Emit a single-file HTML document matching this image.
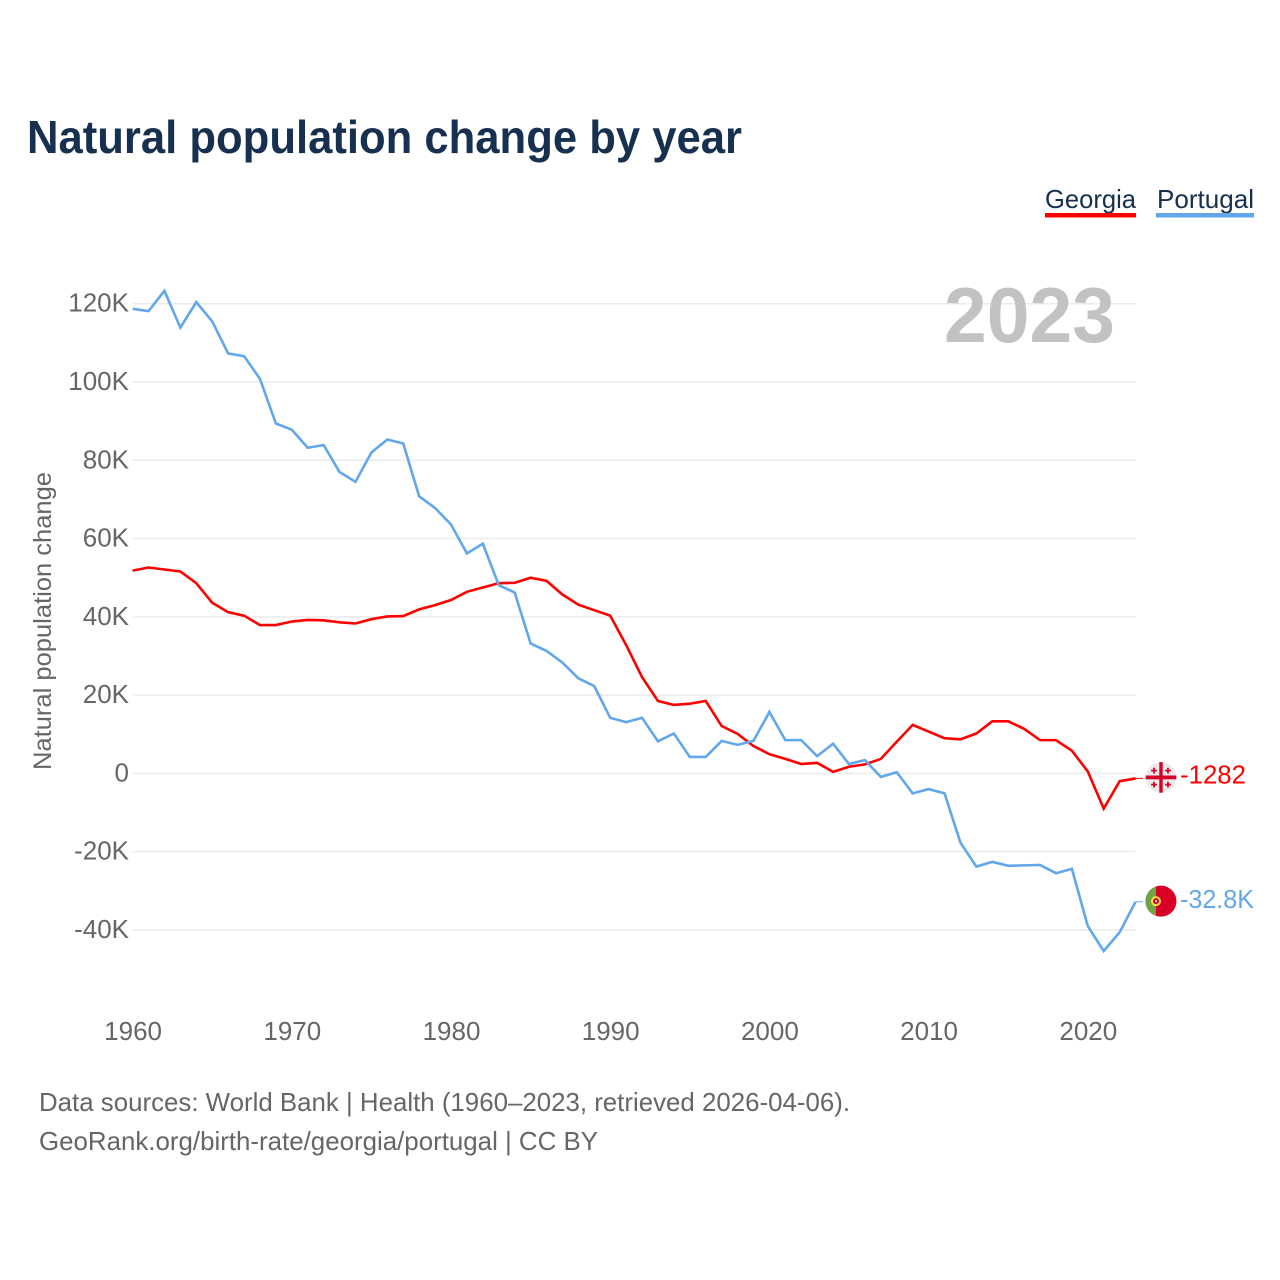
<!DOCTYPE html>
<html lang="en">
<head>
<meta charset="utf-8">
<title>Natural population change by year</title>
<style>
html,body{margin:0;padding:0;background:#fff;width:1280px;height:1280px;overflow:hidden}
svg{display:block}
text{font-family:"Liberation Sans",sans-serif}
</style>
</head>
<body>
<svg id="chart" xmlns="http://www.w3.org/2000/svg" width="1280" height="1280" viewBox="0 0 1280 1280">
  <rect width="1280" height="1280" fill="#fff"/>
  <text x="27" y="153" font-size="46" font-weight="700" fill="#17304f" textLength="715" lengthAdjust="spacingAndGlyphs">Natural population change by year</text>
  <g>
    <g>
      <text x="1045" y="208" font-size="26" fill="#17304f" textLength="91" lengthAdjust="spacingAndGlyphs">Georgia</text>
      <rect x="1045" y="213" width="91" height="4.5" fill="#ff0000"/>
    </g>
    <g>
      <text x="1157" y="208" font-size="26" fill="#17304f" textLength="97" lengthAdjust="spacingAndGlyphs">Portugal</text>
      <rect x="1156" y="213" width="98" height="4.5" fill="#62a7ec"/>
    </g>
  </g>
  <g id="grid"></g>
  <text x="944" y="342" font-size="78" font-weight="700" fill="#c2c2c2" textLength="171" lengthAdjust="spacingAndGlyphs">2023</text>
  <g id="yticks"></g>
  <g id="xticks"></g>
  <text transform="translate(51 770) rotate(-90)" x="0" y="0" font-size="25" fill="#666" textLength="298" lengthAdjust="spacingAndGlyphs">Natural population change</text>
  <g id="series"></g>
  <g id="flag-georgia">
    <circle cx="0" cy="0" r="15.3" fill="#eaeaea"/>
    <rect x="-1.7" y="-15.3" width="3.4" height="30.6" fill="#d80027"/>
    <rect x="-15.3" y="-1.9" width="30.6" height="3.8" fill="#d80027"/>
    <path d="M-7.900 -9.700h1.800v2h2v1.800h-2v2h-1.800v-2h-2v-1.800h2zM6.100 -9.700h1.800v2h2v1.800h-2v2h-1.800v-2h-2v-1.800h2zM-7.900 4.300h1.800v2h2v1.800h-2v2h-1.800v-2h-2v-1.800h2zM6.100 4.300h1.800v2h2v1.800h-2v2h-1.800v-2h-2v-1.800h2z" fill="#d80027"/>
  </g>
  <g id="flag-portugal">
    <circle cx="0" cy="0" r="15.5" fill="#d80027"/>
    <path d="M-5 -14.7A15.500 15.500 0 0 0 -5 14.700Z" fill="#6da544"/>
    <circle cx="-5" cy="0" r="5" fill="#ffda44"/>
    <circle cx="-5" cy="0" r="3" fill="#d80027"/>
    <rect x="-6" y="-1" width="2" height="2" fill="#eeeeee"/>
  </g>
  <g id="end-labels"></g>
  <text x="39" y="1111" font-size="26" fill="#666" textLength="811" lengthAdjust="spacingAndGlyphs">Data sources: World Bank | Health (1960–2023, retrieved 2026-04-06).</text>
  <text x="39" y="1150" font-size="26" fill="#666" textLength="559" lengthAdjust="spacingAndGlyphs">GeoRank.org/birth-rate/georgia/portugal | CC BY</text>
</svg>
<script>
const startYear = 1960;
const yTickValues = [120, 100, 80, 60, 40, 20, 0, -20, -40];
const yTickLabels = ["120K", "100K", "80K", "60K", "40K", "20K", "0", "-20K", "-40K"];
const xTickYears = [1960, 1970, 1980, 1990, 2000, 2010, 2020];
const georgiaValues = [51.8,52.6,52.1,51.6,48.6,43.6,41.2,40.3,37.9,37.9,38.8,39.2,39.1,38.6,38.3,39.4,40.1,40.2,41.9,43.0,44.3,46.4,47.5,48.6,48.7,50.0,49.2,45.7,43.1,41.7,40.3,32.8,24.6,18.5,17.5,17.8,18.5,12.1,10.1,7.0,4.9,3.7,2.4,2.7,0.4,1.7,2.3,3.7,8.1,12.4,10.7,9.0,8.7,10.2,13.3,13.3,11.4,8.5,8.5,5.8,0.5,-9.0,-2.0,-1.282];
const portugalValues = [118.7,118.1,123.3,113.9,120.4,115.5,107.3,106.6,100.8,89.4,87.8,83.2,83.9,77.0,74.5,82.0,85.3,84.3,70.8,67.8,63.6,56.2,58.7,48.1,46.2,33.2,31.3,28.3,24.3,22.3,14.2,13.1,14.2,8.2,10.2,4.2,4.2,8.3,7.3,8.3,15.7,8.5,8.5,4.4,7.6,2.4,3.4,-0.9,0.3,-5.1,-4.0,-5.1,-17.7,-23.8,-22.6,-23.6,-23.5,-23.4,-25.5,-24.4,-39.0,-45.4,-40.6,-32.8];
const georgiaEndLabel = "-1282";
const portugalEndLabel = "-32.8K";

const NS = "http://www.w3.org/2000/svg";
const xScale = function (year) { return 132.6 + (year - startYear) * 15.92; };
const yScale = function (v) { return 773.4 - v * 3.914; };
const plotRight = xScale(2023);

const grid = document.getElementById("grid");
const yticks = document.getElementById("yticks");
yTickValues.forEach(function (v, i) {
  const line = document.createElementNS(NS, "line");
  
  
  line.setAttribute("x1", 133);
  line.setAttribute("x2", plotRight);
  line.setAttribute("y1", yScale(v));
  line.setAttribute("y2", yScale(v));
  line.setAttribute("stroke", "#ebebeb");
  line.setAttribute("stroke-width", "1.5");
  grid.appendChild(line);

  const t = document.createElementNS(NS, "text");
  
  
  t.setAttribute("x", 129);
  t.setAttribute("y", yScale(v) + 8);
  t.setAttribute("text-anchor", "end");
  t.setAttribute("font-size", "26");
  t.setAttribute("fill", "#666");
  t.textContent = yTickLabels[i];
  yticks.appendChild(t);
});

const xticks = document.getElementById("xticks");
xTickYears.forEach(function (year) {
  const t = document.createElementNS(NS, "text");
  
  
  t.setAttribute("x", xScale(year) + 0.5);
  t.setAttribute("y", 1040);
  t.setAttribute("text-anchor", "middle");
  t.setAttribute("font-size", "26");
  t.setAttribute("fill", "#666");
  t.textContent = String(year);
  xticks.appendChild(t);
});

const series = document.getElementById("series");
function linePoints(values) {
  return values.map(function (v, i) {
    return xScale(startYear + i).toFixed(2) + "," + yScale(v).toFixed(2);
  }).join(" ");
}

const georgiaLine = document.createElementNS(NS, "polyline");


georgiaLine.setAttribute("points", linePoints(georgiaValues));
georgiaLine.setAttribute("fill", "none");
georgiaLine.setAttribute("stroke", "#ff0000");
georgiaLine.setAttribute("stroke-width", "2.6");
series.appendChild(georgiaLine);

const portugalLine = document.createElementNS(NS, "polyline");


portugalLine.setAttribute("points", linePoints(portugalValues));
portugalLine.setAttribute("fill", "none");
portugalLine.setAttribute("stroke", "#62a7ec");
portugalLine.setAttribute("stroke-width", "2.6");
series.appendChild(portugalLine);

const georgiaEndY = yScale(georgiaValues[georgiaValues.length - 1]);
const portugalEndY = yScale(portugalValues[portugalValues.length - 1]);

const georgiaStub = document.createElementNS(NS, "line");


georgiaStub.setAttribute("x1", plotRight);
georgiaStub.setAttribute("x2", 1143);
georgiaStub.setAttribute("y1", georgiaEndY);
georgiaStub.setAttribute("y2", georgiaEndY);
georgiaStub.setAttribute("stroke", "#ff0000");
georgiaStub.setAttribute("stroke-width", "1");
series.appendChild(georgiaStub);

const portugalStub = document.createElementNS(NS, "line");


portugalStub.setAttribute("x1", plotRight);
portugalStub.setAttribute("x2", 1143);
portugalStub.setAttribute("y1", portugalEndY);
portugalStub.setAttribute("y2", portugalEndY);
portugalStub.setAttribute("stroke", "#62a7ec");
portugalStub.setAttribute("stroke-width", "1");
series.appendChild(portugalStub);

document.getElementById("flag-georgia").setAttribute("transform", "translate(1161 " + (georgiaEndY - 1) + ")");
document.getElementById("flag-portugal").setAttribute("transform", "translate(1161 " + (portugalEndY - 0.6) + ")");

const endLabels = document.getElementById("end-labels");

const georgiaLabel = document.createElementNS(NS, "text");


georgiaLabel.setAttribute("x", 1180);
georgiaLabel.setAttribute("y", georgiaEndY + 5);
georgiaLabel.setAttribute("font-size", "26");
georgiaLabel.setAttribute("fill", "#ff0000");
georgiaLabel.setAttribute("textLength", "66");
georgiaLabel.setAttribute("lengthAdjust", "spacingAndGlyphs");
georgiaLabel.textContent = georgiaEndLabel;
endLabels.appendChild(georgiaLabel);

const portugalLabel = document.createElementNS(NS, "text");


portugalLabel.setAttribute("x", 1180);
portugalLabel.setAttribute("y", portugalEndY + 6);
portugalLabel.setAttribute("font-size", "26");
portugalLabel.setAttribute("fill", "#62a7ec");
portugalLabel.setAttribute("textLength", "74");
portugalLabel.setAttribute("lengthAdjust", "spacingAndGlyphs");
portugalLabel.textContent = portugalEndLabel;
endLabels.appendChild(portugalLabel);
</script>
</body>
</html>
